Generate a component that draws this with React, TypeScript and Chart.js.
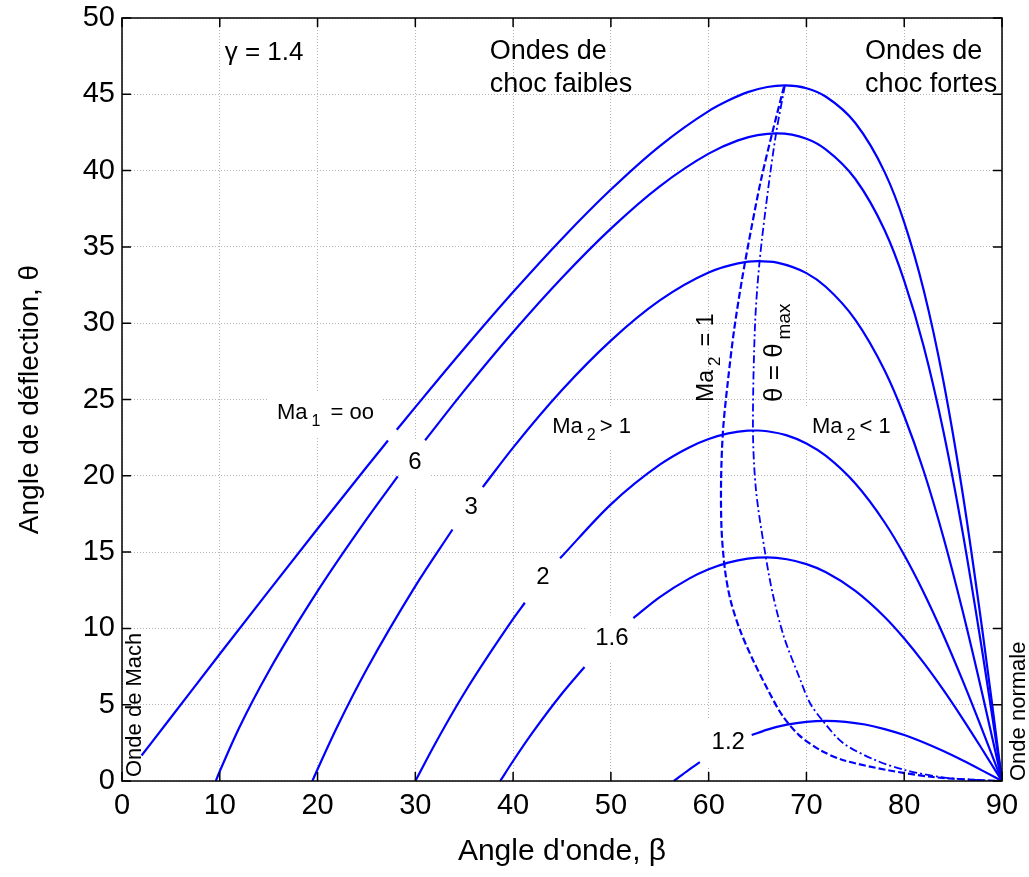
import React, { useEffect, useRef } from 'react';
import { Chart, registerables } from 'chart.js';

Chart.register(...registerables);

const FONT = '"Liberation Sans", Arial, Helvetica, sans-serif';
const BLUE = '#0000ff';

// Tick labels
const xTicks = [0, 10, 20, 30, 40, 50, 60, 70, 80, 90];
const yTicks = [0, 5, 10, 15, 20, 25, 30, 35, 40, 45, 50];

// Ma1 = infinity (null = gap under a label)
const betaInf = [2, 5, 10, 15, 20, 25, 27.2, null, 28.1, 30, 35, 40, 45, 50, 55, 60, 62, 64, 66, 67.8, 70, 72, 75, 78, 80, 82, 84, 86, 88, 89, 90];
const thetaInf = [1.67, 4.16, 8.32, 12.44, 16.53, 20.56, 22.31, null, 23.02, 24.5, 28.34, 32.04, 35.54, 38.76, 41.61, 43.9, 44.59, 45.14, 45.48, 45.58, 45.4, 44.84, 43.12, 39.9, 36.61, 32.14, 26.23, 18.76, 9.84, 4.98, 0];

// Ma1 = 6
const beta6 = [9.59, 10, 12, 15, 20, 25, 28.2, null, 31, 35, 40, 45, 50, 55, 60, 63, 65, 67, 70, 72, 75, 78, 80, 82, 84, 86, 88, 89, 90];
const theta6 = [0, 0.64, 3.51, 7.18, 12.44, 17.14, 19.96, null, 22.33, 25.58, 29.42, 32.98, 36.2, 38.97, 41.11, 41.98, 42.32, 42.44, 42.09, 41.38, 39.45, 36.09, 32.78, 28.46, 22.94, 16.21, 8.42, 4.26, 0];

// Ma1 = 3
const beta3 = [19.47, 20, 22, 25, 30, 33.8, null, 36.9, 40, 45, 50, 55, 60, 63, 65, 67, 70, 72, 75, 78, 80, 82, 84, 86, 88, 90];
const theta3 = [0, 0.77, 3.54, 7.29, 12.77, 16.48, null, 19.26, 21.85, 25.62, 28.86, 31.49, 33.32, 33.92, 34.07, 33.97, 33.28, 32.37, 30.22, 26.9, 23.92, 20.3, 15.99, 11.07, 5.67, 0];

// Ma1 = 2
const beta2 = [30, 32, 35, 40, 41.2, null, 44.8, 50, 55, 58, 60, 62, 64, 65, 66, 68, 70, 72, 75, 78, 80, 82, 84, 86, 88, 90];
const theta2 = [0, 2.41, 5.75, 10.62, 11.68, null, 14.59, 18.13, 20.73, 21.86, 22.41, 22.78, 22.96, 22.97, 22.92, 22.65, 22.12, 21.3, 19.49, 16.94, 14.81, 12.34, 9.57, 6.54, 3.32, 0];

// Ma1 = 1.6
const beta16 = [38.68, 40, 42, 45, 47.3, null, 52.3, 55, 58, 60, 62, 64, 66, 68, 70, 72, 75, 78, 80, 82, 84, 86, 88, 90];
const theta16 = [0, 1.31, 3.18, 5.73, 7.47, null, 10.68, 12.05, 13.26, 13.87, 14.31, 14.57, 14.65, 14.53, 14.21, 13.68, 12.46, 10.75, 9.34, 7.74, 5.97, 4.06, 2.05, 0];

// Ma1 = 1.2
const beta12 = [56.44, 58, 59.1, null, 64.4, 66, 68, 70, 72, 74, 76, 78, 80, 82, 84, 86, 88, 90];
const theta12 = [0, 0.75, 1.24, null, 3.01, 3.37, 3.69, 3.88, 3.94, 3.88, 3.7, 3.4, 3.01, 2.52, 1.96, 1.34, 0.68, 0];

// Ma2 = 1 locus (dashed)
const betaSonic = [67.7, 66.5, 65.35, 64.33, 63.4, 62.6, 61.98, 61.47, 61.27, 61.32, 61.67, 62.23, 63.2, 64.53, 66.07, 67.5, 69.24, 71.4, 73.7, 78.24, 82.94, 87.2, 90];
const thetaSonic = [45.5, 42.46, 39.38, 36.1, 32.83, 29.55, 26.28, 23.0, 19.72, 16.45, 13.83, 11.86, 9.9, 7.93, 5.96, 4.33, 3.01, 2.03, 1.38, 0.72, 0.26, 0.07, 0];

// theta = theta_max locus (dash-dot)
const betaMax = [67.8, 66.9, 66.07, 65.2, 64.74, 64.53, 64.84, 65.76, 66.6, 67.7, 69.34, 70.36, 71.69, 73.74, 77.0, 80.08, 83.66, 87.24, 90];
const thetaMax = [45.58, 42.46, 38.73, 34.0, 29.88, 23.0, 19.07, 15.0, 12.12, 9.44, 6.68, 5.11, 3.93, 2.49, 1.38, 0.72, 0.26, 0.07, 0];

type Seg = { t: string; sub?: boolean };
type Label = {
  segs: Seg[];
  b: number;
  th: number;
  size: number;
  rot?: boolean;
  center?: boolean;
  bg?: boolean;
};

const labels: Label[] = [
  { segs: [{ t: 'γ = 1.4' }], b: 10.5, th: 47.7, size: 26 },
  { segs: [{ t: 'Ondes de' }], b: 37.6, th: 47.77, size: 27 },
  { segs: [{ t: 'choc faibles' }], b: 37.6, th: 45.67, size: 27 },
  { segs: [{ t: 'Ondes de' }], b: 76.0, th: 47.77, size: 27 },
  { segs: [{ t: 'choc fortes' }], b: 76.0, th: 45.67, size: 27 },
  { segs: [{ t: 'Ma' }, { t: '1', sub: true }, { t: ' = oo' }], b: 15.85, th: 24.1, size: 22, bg: true },
  { segs: [{ t: 'Ma' }, { t: '2', sub: true }, { t: '> 1' }], b: 44.0, th: 23.2, size: 22, bg: true },
  { segs: [{ t: 'Ma' }, { t: '2', sub: true }, { t: '< 1' }], b: 70.57, th: 23.2, size: 22, bg: true },
  { segs: [{ t: 'Ma' }, { t: '2', sub: true }, { t: ' = 1' }], b: 59.83, th: 24.84, size: 23, rot: true },
  { segs: [{ t: 'θ = θ' }, { t: 'max', sub: true }], b: 66.78, th: 24.84, size: 26, rot: true },
  { segs: [{ t: 'Onde de Mach' }], b: 1.33, th: 0.26, size: 22, rot: true },
  { segs: [{ t: 'Onde normale' }], b: 91.74, th: 0, size: 22, rot: true },
  { segs: [{ t: '6' }], b: 29.97, th: 20.9, size: 24, center: true, bg: true },
  { segs: [{ t: '3' }], b: 35.7, th: 17.9, size: 24, center: true, bg: true },
  { segs: [{ t: '2' }], b: 43.05, th: 13.37, size: 24, center: true, bg: true },
  { segs: [{ t: '1.6' }], b: 50.1, th: 9.37, size: 24, center: true, bg: true },
  { segs: [{ t: '1.2' }], b: 62.0, th: 2.56, size: 24, center: true, bg: true },
];

function pts(b: (number | null)[], t: (number | null)[]) {
  return b.map((x, i) => ({ x: x as any, y: t[i] as any }));
}

function segWidths(ctx: CanvasRenderingContext2D, l: Label) {
  const subSize = Math.round(l.size * 0.72);
  const gap = 4;
  const ws = l.segs.map((s) => {
    ctx.font = `${s.sub ? subSize : l.size}px ${FONT}`;
    return ctx.measureText(s.t).width + (s.sub ? gap * 2 : 0);
  });
  return { ws, total: ws.reduce((a, c) => a + c, 0), subSize, gap };
}

function drawLabel(ctx: CanvasRenderingContext2D, chart: any, l: Label, bgOnly: boolean) {
  const xs = chart.scales.x;
  const ys = chart.scales.y;
  const px = xs.getPixelForValue(l.b);
  const py = ys.getPixelForValue(l.th);
  ctx.save();
  ctx.translate(px, py);
  if (l.rot) ctx.rotate(-Math.PI / 2);
  const { ws, total, subSize, gap } = segWidths(ctx, l);
  const x0 = l.center ? -total / 2 : 0;
  if (bgOnly) {
    if (l.bg) {
      const pad = 8;
      ctx.fillStyle = '#ffffff';
      ctx.fillRect(x0 - pad, -l.size * 0.6 - pad, total + 2 * pad, l.size * 1.3 + 2 * pad);
    }
    ctx.restore();
    return;
  }
  ctx.fillStyle = '#000';
  ctx.textBaseline = 'middle';
  ctx.textAlign = 'left';
  let cx = x0;
  l.segs.forEach((s, i) => {
    ctx.font = `${s.sub ? subSize : l.size}px ${FONT}`;
    ctx.fillText(s.t, cx + (s.sub ? gap : 0), s.sub ? l.size * 0.38 : 0);
    cx += ws[i];
  });
  ctx.restore();
}

const decorPlugin = {
  id: 'decor',
  beforeDatasetsDraw(chart: any) {
    const ctx = chart.ctx;
    labels.forEach((l) => drawLabel(ctx, chart, l, true));
  },
  afterDraw(chart: any) {
    const ctx: CanvasRenderingContext2D = chart.ctx;
    const { left, right, top, bottom } = chart.chartArea;
    const xs = chart.scales.x;
    const ys = chart.scales.y;
    ctx.save();
    ctx.strokeStyle = '#000';
    ctx.lineWidth = 1.5;
    ctx.strokeRect(left, top, right - left, bottom - top);
    const tl = 9;
    ctx.beginPath();
    xTicks.forEach((v) => {
      const p = xs.getPixelForValue(v);
      ctx.moveTo(p, bottom);
      ctx.lineTo(p, bottom - tl);
      ctx.moveTo(p, top);
      ctx.lineTo(p, top + tl);
    });
    yTicks.forEach((v) => {
      const p = ys.getPixelForValue(v);
      ctx.moveTo(left, p);
      ctx.lineTo(left + tl, p);
      ctx.moveTo(right, p);
      ctx.lineTo(right - tl, p);
    });
    ctx.stroke();
    ctx.restore();
    labels.forEach((l) => drawLabel(ctx, chart, l, false));
  },
};

function solid(data: any[]) {
  return {
    data,
    showLine: true,
    borderColor: BLUE,
    borderWidth: 2.2,
    pointRadius: 0,
    cubicInterpolationMode: 'monotone' as const,
    spanGaps: false,
  };
}

export default function App() {
  const ref = useRef<HTMLCanvasElement>(null);
  useEffect(() => {
    document.body.style.margin = '0';
    document.body.style.overflow = 'hidden';
    Chart.defaults.font.family = FONT;
    const chart = new Chart(ref.current as HTMLCanvasElement, {
      type: 'scatter',
      data: {
        datasets: [
          solid(pts(betaInf, thetaInf)),
          solid(pts(beta6, theta6)),
          solid(pts(beta3, theta3)),
          solid(pts(beta2, theta2)),
          solid(pts(beta16, theta16)),
          solid(pts(beta12, theta12)),
          {
            data: pts(betaSonic, thetaSonic),
            showLine: true,
            borderColor: BLUE,
            borderWidth: 2.2,
            borderDash: [7, 3],
            pointRadius: 0,
            tension: 0.3,
          },
          {
            data: pts(betaMax, thetaMax),
            showLine: true,
            borderColor: BLUE,
            borderWidth: 1.8,
            borderDash: [8, 3, 2, 3],
            pointRadius: 0,
            tension: 0.3,
          },
        ] as any,
      },
      options: {
        animation: false,
        responsive: true,
        maintainAspectRatio: false,
        layout: { padding: { left: 0, top: 18, right: 27, bottom: 0 } },
        plugins: { legend: { display: false }, tooltip: { enabled: false } },
        scales: {
          x: {
            type: 'linear',
            position: 'bottom',
            min: 0,
            max: 90,
            afterBuildTicks: (s: any) => {
              s.ticks = xTicks.map((v) => ({ value: v }));
            },
            afterFit: (s: any) => {
              s.height = 96;
              s.paddingLeft = 0;
              s.paddingRight = 0;
            },
            ticks: { color: '#000', font: { size: 29, family: FONT }, padding: 8, maxRotation: 0, autoSkip: false },
            grid: { color: '#b4b4b4', lineWidth: 1, drawTicks: false },
            border: { display: false, dash: [1, 2] },
            title: {
              display: true,
              text: "Angle d'onde, β",
              color: '#000',
              font: { size: 30, family: FONT },
              padding: { top: 0, bottom: 7 },
            },
          },
          y: {
            type: 'linear',
            min: 0,
            max: 50,
            afterBuildTicks: (s: any) => {
              s.ticks = yTicks.map((v) => ({ value: v }));
            },
            afterFit: (s: any) => {
              s.width = 122;
              s.paddingTop = 0;
              s.paddingBottom = 0;
            },
            ticks: { color: '#000', font: { size: 29, family: FONT }, padding: 7, autoSkip: false },
            grid: { color: '#b4b4b4', lineWidth: 1, drawTicks: false },
            border: { display: false, dash: [1, 2] },
            title: {
              display: true,
              text: 'Angle de déflection, θ',
              color: '#000',
              font: { size: 28, family: FONT },
              padding: { top: 13, bottom: 0 },
            },
          },
        },
      } as any,
      plugins: [decorPlugin],
    });
    return () => chart.destroy();
  }, []);
  return (
    <div style={{ position: 'fixed', left: 0, top: 0, width: 1029, height: 877, background: '#fff' }}>
      <canvas ref={ref} />
    </div>
  );
}
